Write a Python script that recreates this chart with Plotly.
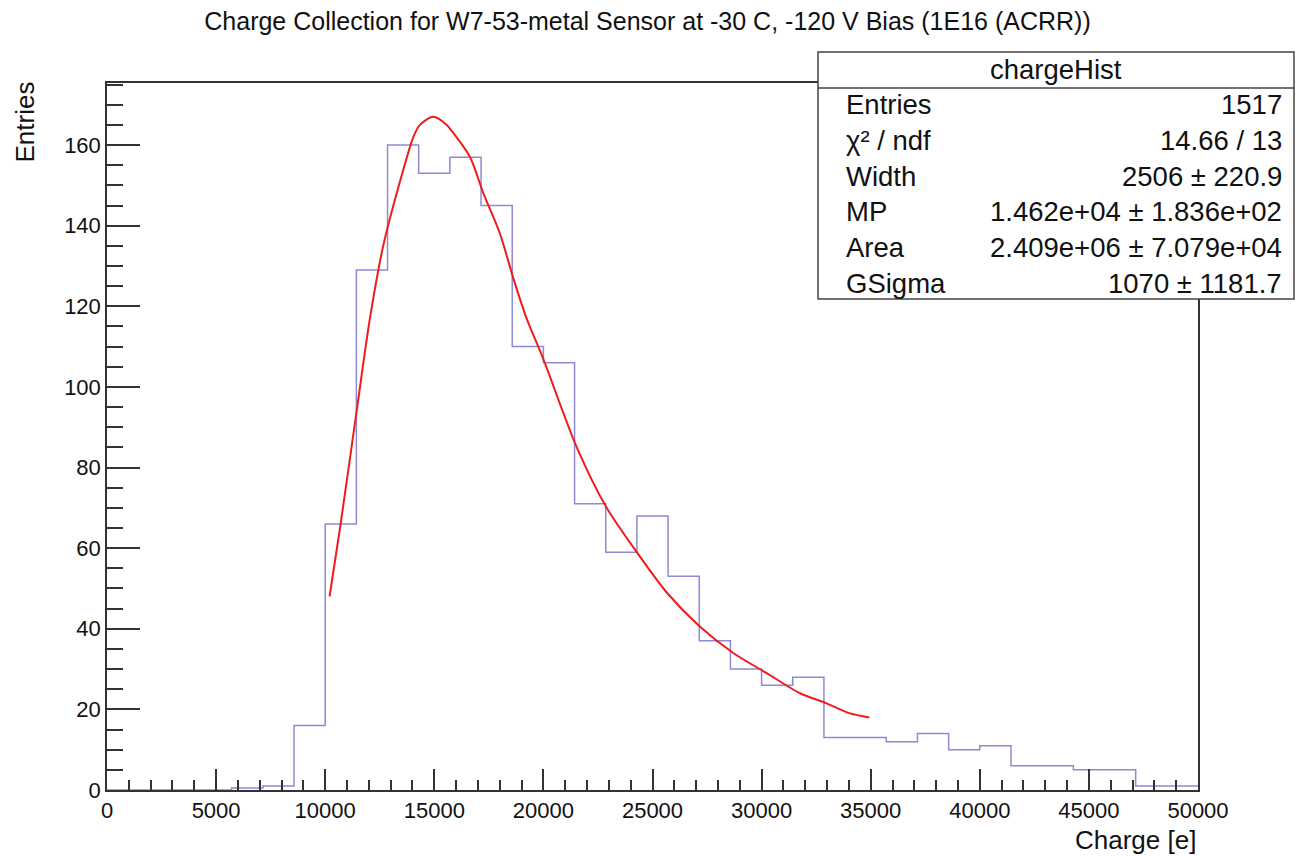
import plotly.graph_objects as go

# ---------------- data ----------------
x_min, x_max, n_bins = 0, 50000, 35
counts = [0, 0, 0, 0, 0.5, 1, 16, 66, 129, 160, 153, 157, 145, 110, 106,
          71, 59, 68, 53, 37, 30, 26, 28, 13, 13, 12, 14, 10, 11, 6, 6,
          5, 5, 1, 1]

fit_x = [10200, 10680, 11440, 12050, 12660, 13430, 14040, 14340, 14950,
         15570, 15870, 16640, 17250, 18010, 18620, 19230, 19990, 21530,
         22900, 24280, 25650, 27180, 28700, 30230, 31760, 32980, 34050, 34940]
fit_y = [48, 65, 94, 117, 135, 151, 162, 165, 167, 165, 163, 157, 148, 138,
         127, 117, 107, 85, 70, 59, 49, 40.5, 34, 29, 24, 21.5, 19, 18]

stats_title = "chargeHist"
stats_labels = ["Entries", "χ² / ndf", "Width", "MP", "Area", "GSigma"]
stats_values = ["1517", "14.66 / 13", "2506 ± 220.9",
                "1.462e+04 ± 1.836e+02", "2.409e+06 ± 7.079e+04",
                "1070 ± 1181.7"]

title = "Charge Collection for W7-53-metal Sensor at -30 C, -120 V Bias (1E16 (ACRR))"

# ---------------- layout helpers ----------------
W, H = 1295, 856
L, R, T, B = 107, 1198, 83, 790   # plot frame in px
FONT = "Liberation Sans, Arial, Helvetica, sans-serif"


def px(xp):
    return (xp - L) / (R - L)


def py(yp):
    return (B - yp) / (B - T)


bw = (x_max - x_min) / n_bins
edges = [x_min + i * bw for i in range(n_bins + 1)]
step_y = counts + [counts[-1]]

fig = go.Figure()
fig.add_trace(go.Scatter(x=edges, y=step_y, mode="lines", line_shape="hv",
                         line=dict(color="#8c8cd6", width=1.5),
                         hoverinfo="skip", showlegend=False))
fig.add_trace(go.Scatter(x=fit_x, y=fit_y, mode="lines", line_shape="spline",
                         line=dict(color="#ee1c1c", width=2, smoothing=0.8),
                         showlegend=False))

shapes = []
annos = []
# stats box
bx0, bx1, by0, by1, hy = 818, 1294, 52, 299, 88
shapes.append(dict(type="rect", xref="paper", yref="paper",
                   x0=px(bx0), x1=px(bx1), y0=py(by1), y1=py(by0),
                   line=dict(color="#444", width=1.5), fillcolor="white",
                   layer="above"))
shapes.append(dict(type="line", xref="paper", yref="paper",
                   x0=px(bx0), x1=px(bx1), y0=py(hy), y1=py(hy),
                   line=dict(color="#444", width=1.5), layer="above"))
SF = 27.5
annos.append(dict(text=stats_title, xref="paper", yref="paper",
                  x=px((bx0 + bx1) / 2), y=py(70), xanchor="center",
                  yanchor="middle", showarrow=False,
                  font=dict(size=SF, color="#111", family=FONT)))
row_y = [104, 140, 176, 212, 247, 283]
for lab, val, yy in zip(stats_labels, stats_values, row_y):
    annos.append(dict(text=lab, xref="paper", yref="paper", x=px(844),
                      y=py(yy), xanchor="left", yanchor="middle",
                      showarrow=False,
                      font=dict(size=SF, color="#111", family=FONT)))
    annos.append(dict(text=val, xref="paper", yref="paper", x=px(1284),
                      y=py(yy), xanchor="right", yanchor="middle",
                      showarrow=False,
                      font=dict(size=SF, color="#111", family=FONT)))

# axis titles
annos.append(dict(text="Entries", xref="paper", yref="paper", x=px(25),
                  y=py(80), xanchor="center", yanchor="top", textangle=-90,
                  showarrow=False, font=dict(size=26, color="#111", family=FONT)))
annos.append(dict(text="Charge [e]", xref="paper", yref="paper", x=px(1198),
                  y=py(840), xanchor="right", yanchor="middle",
                  showarrow=False, font=dict(size=26, color="#111", family=FONT)))

fig.update_layout(
    width=W, height=H,
    margin=dict(l=L, r=W - R, t=T, b=H - B),
    paper_bgcolor="white", plot_bgcolor="white",
    title=dict(text=title, x=0.5, xanchor="center", y=1 - 21 / H,
               yanchor="middle", font=dict(size=25, color="#111", family=FONT)),
    shapes=shapes, annotations=annos,
    font=dict(family=FONT, color="#111"),
)
fig.update_xaxes(range=[x_min, x_max], showgrid=False, zeroline=False,
                 showline=True, linecolor="#333", linewidth=1.5, mirror=True,
                 ticks="inside", ticklen=21, tickwidth=1.5, tickcolor="#333",
                 tick0=0, dtick=5000, tickformat="d", layer="above traces",
                 tickfont=dict(size=22, family=FONT, color="#111"),
                 minor=dict(ticks="inside", ticklen=10, tickwidth=1.5,
                            tickcolor="#333", dtick=1000, showgrid=False))
fig.update_yaxes(range=[0, 175.4], showgrid=False, zeroline=False,
                 showline=True, linecolor="#333", linewidth=1.5, mirror=True,
                 ticks="inside", ticklen=33, tickwidth=1.5, tickcolor="#333",
                 tick0=0, dtick=20, layer="above traces",
                 tickfont=dict(size=22, family=FONT, color="#111"),
                 minor=dict(ticks="inside", ticklen=16, tickwidth=1.5,
                            tickcolor="#333", dtick=5, showgrid=False))

fig.write_html("out.html")
